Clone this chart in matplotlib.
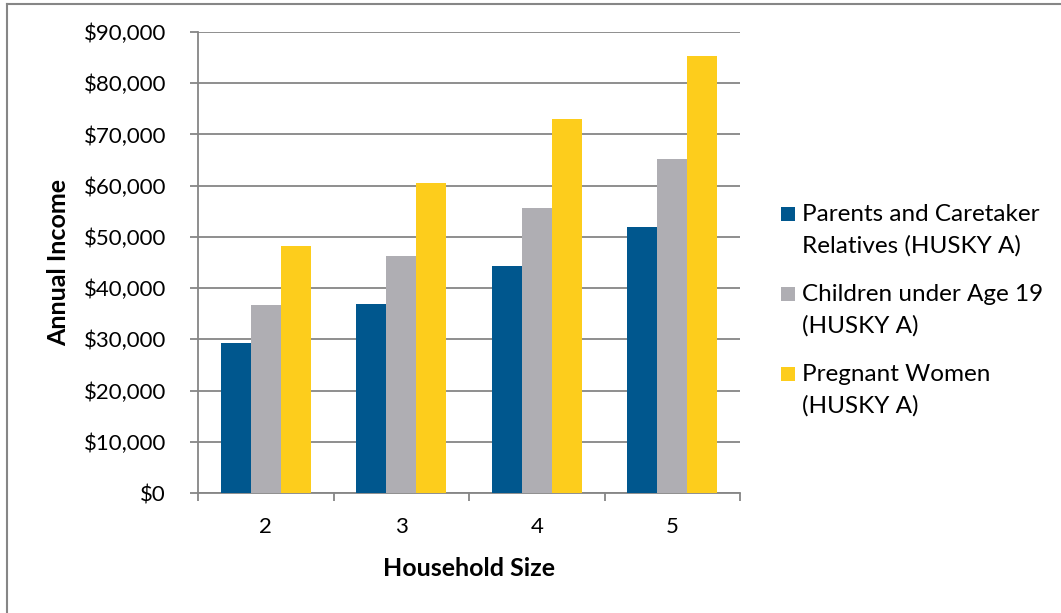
import matplotlib
matplotlib.use("Agg")
import matplotlib.pyplot as plt
import numpy as np
from matplotlib.lines import Line2D
from matplotlib.patches import Rectangle
from matplotlib.ticker import FuncFormatter, FixedLocator

categories = ["2", "3", "4", "5"]
series_names = ["Parents and Caretaker\nRelatives (HUSKY A)",
                "Children under Age 19\n(HUSKY A)",
                "Pregnant Women\n(HUSKY A)"]
parents = [29220, 36860, 44360, 51920]
children = [36720, 46250, 55710, 65230]
pregnant = [48140, 60540, 72930, 85320]
colors = ["#00578E", "#AFAEB3", "#FDCD1C"]
y_ticks = [0, 10000, 20000, 30000, 40000, 50000, 60000, 70000, 80000, 90000]

plt.rcParams['font.family'] = ['Lato', 'DejaVu Sans']

W, H = 1061, 613
fig = plt.figure(figsize=(W / 100, H / 100), dpi=100)
ax_left, ax_right, ax_top, ax_bot = 198, 740, 32, 493
ax = fig.add_axes([ax_left / W, 1 - ax_bot / H, (ax_right - ax_left) / W, (ax_bot - ax_top) / H])

x = np.arange(len(categories))
bw = 1 / 4.5
data = [parents, children, pregnant]
for i, (vals, col, name) in enumerate(zip(data, colors, series_names)):
    ax.bar(x + (i - 1) * bw, vals, width=bw, color=col, label=name, zorder=3, linewidth=0)

ax.set_xlim(-0.5, len(categories) - 0.5)
ax.set_ylim(0, 90000)
ax.yaxis.set_major_locator(FixedLocator(y_ticks))
ax.yaxis.set_major_formatter(FuncFormatter(lambda v, p: "${:,.0f}".format(v)))
ax.grid(axis='y', color='#868686', linewidth=1.3, zorder=0)
ax.set_axisbelow(True)

ax.set_xticks(x)
ax.set_xticklabels(categories)
ax.set_xticks(np.arange(-0.5, len(categories)), minor=True)
ax.tick_params(axis='x', which='major', length=0, pad=17.5, labelsize=16)
ax.tick_params(axis='x', which='minor', length=6, width=1.3, color='#868686', direction='out')
ax.tick_params(axis='y', length=6, width=1.3, color='#868686', direction='out', pad=17, labelsize=16)

for s in ['top', 'right']:
    ax.spines[s].set_visible(False)
for s in ['left', 'bottom']:
    ax.spines[s].set_color('#868686')
    ax.spines[s].set_linewidth(1.3)

ax_w = ax_right - ax_left
ax_h = ax_bot - ax_top
ax.set_xlabel("Household Size", fontsize=18, fontweight='bold', va='baseline')
ax.xaxis.set_label_coords(0.5, -(576 - ax_bot) / ax_h)
ax.set_ylabel("Annual Income", fontsize=18, fontweight='bold', va='center')
ax.yaxis.set_label_coords((58.5 - ax_left) / ax_w, 0.5)

# legend (Excel style: swatch aligned with first line)
baselines = [221, 301, 381]
line_step = 32
for name, col, b in zip(series_names, colors, baselines):
    fig.patches.append(Rectangle((781 / W, 1 - b / H), 14 / W, 14 / H,
                                 transform=fig.transFigure, facecolor=col, edgecolor='none'))
    for j, line in enumerate(name.split("\n")):
        fig.text(802.5 / W, 1 - (b + j * line_step) / H, line, fontsize=17.5,
                 ha='left', va='baseline', color='black')

fig.add_artist(Line2D([6.5 / W, 1], [1 - 3.5 / H, 1 - 3.5 / H], transform=fig.transFigure,
                      color='#868686', linewidth=1.5))
fig.add_artist(Line2D([6.5 / W, 6.5 / W], [0, 1 - 3.5 / H], transform=fig.transFigure,
                      color='#868686', linewidth=1.5))

fig.savefig("out.png", dpi=100, facecolor='white')
